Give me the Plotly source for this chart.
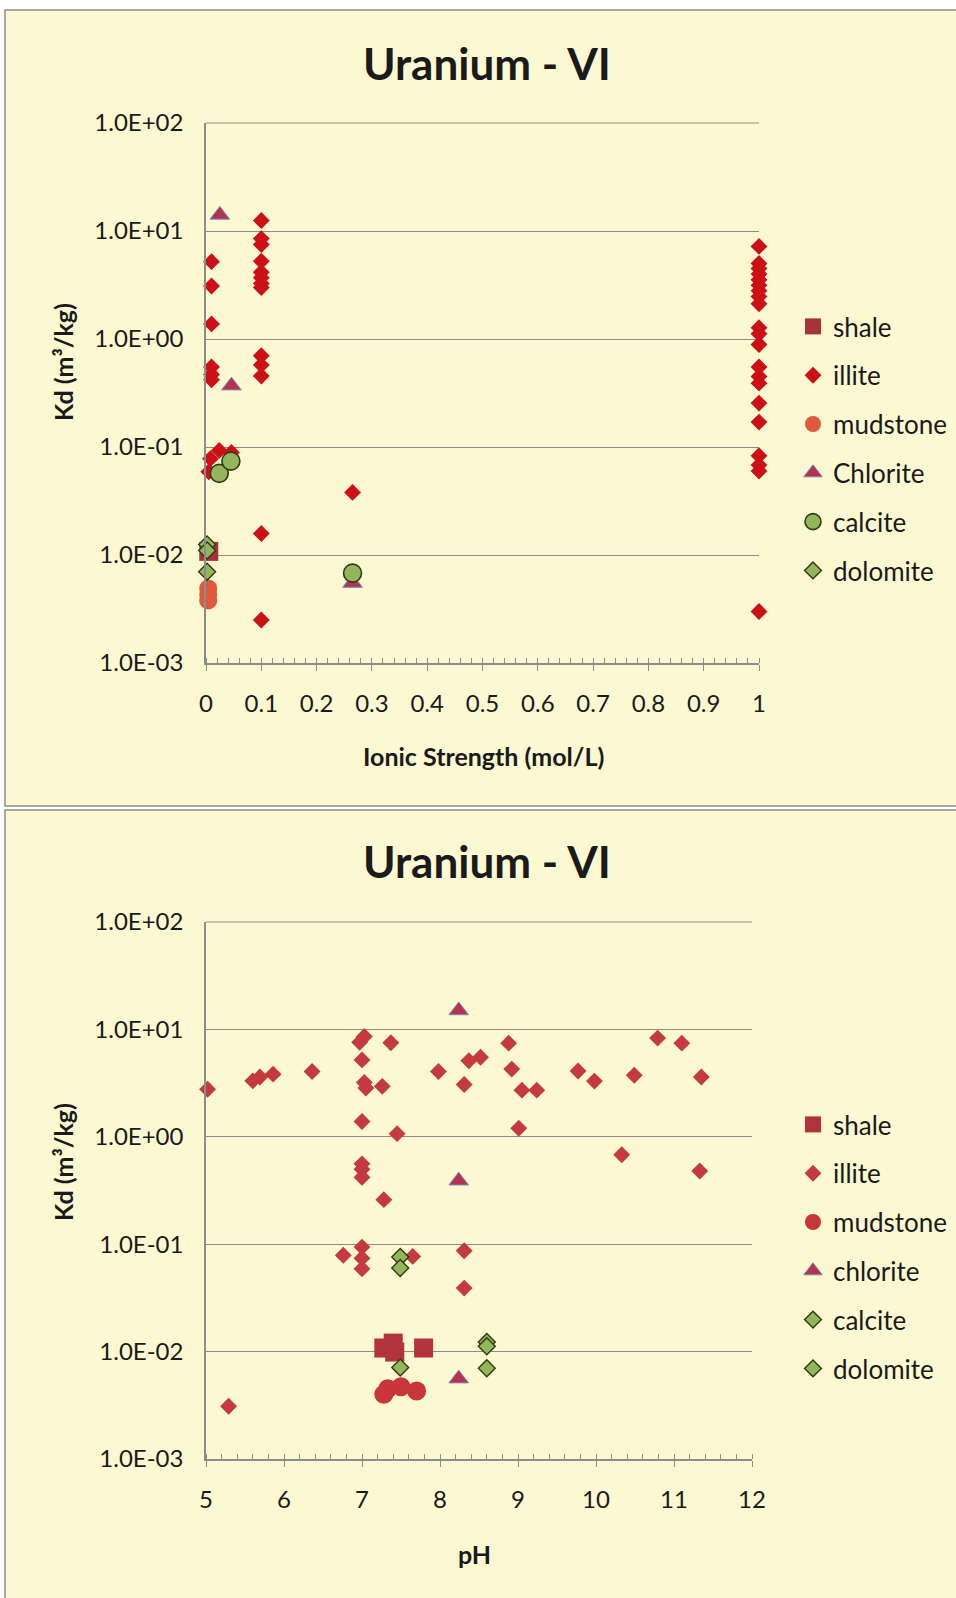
import plotly.graph_objects as go

# ---------------- data: Kd vs ionic strength ----------------
is_shale_x = [0.005]
is_shale_y = [0.0108]

is_illite_x = [0.01, 0.01, 0.01, 0.01, 0.01, 0.01,
               0.024, 0.008, 0.005, 0.046,
               0.1, 0.1, 0.1, 0.1, 0.1, 0.1, 0.1, 0.1, 0.1, 0.1, 0.1, 0.1, 0.1,
               0.265,
               1, 1, 1, 1, 1, 1, 1, 1, 1, 1, 1, 1, 1, 1, 1, 1, 1, 1, 1, 1, 1]
is_illite_y = [5.2, 3.1, 1.38, 0.55, 0.47, 0.42,
               0.093, 0.078, 0.059, 0.089,
               12.5, 8.5, 7.5, 5.25, 4.15, 3.7, 3.27, 3.0, 0.70, 0.575, 0.455, 0.0158, 0.0025,
               0.038,
               7.2, 5.0, 4.5, 4.0, 3.54, 3.15, 2.8, 2.48, 2.12, 1.27, 1.12, 0.89,
               0.55, 0.45, 0.39, 0.255, 0.17, 0.083, 0.068, 0.060, 0.0030]

is_mudstone_x = [0.004, 0.004, 0.004]
is_mudstone_y = [0.0049, 0.0043, 0.0038]

is_chlorite_x = [0.025, 0.046, 0.265]
is_chlorite_y = [14.1, 0.37, 0.0055]

is_calcite_x = [0.024, 0.045, 0.265]
is_calcite_y = [0.057, 0.074, 0.0068]

is_dolomite_x = [0.002, 0.002, 0.002]
is_dolomite_y = [0.0125, 0.011, 0.0070]

# ---------------- data: Kd vs pH ----------------
ph_shale_x = [7.28, 7.40, 7.42, 7.79]
ph_shale_y = [0.0108, 0.012, 0.0099, 0.0108]

ph_illite_x = [5.02, 5.29, 5.60, 5.69, 5.86, 6.36,
               7.03, 6.97, 7.0, 7.03, 7.05, 7.0, 7.0, 7.0, 7.0, 7.28, 7.37, 7.26, 7.45,
               6.76, 7.0, 7.0, 7.0, 7.65,
               7.98, 8.31, 8.37, 8.52, 8.31, 8.31, 8.88, 8.92, 9.05, 9.24, 9.01,
               9.77, 9.98, 10.49, 10.79, 11.10, 11.35, 10.33, 11.33]
ph_illite_y = [2.77, 0.0031, 3.32, 3.6, 3.83, 4.05,
               8.6, 7.6, 5.2, 3.2, 2.84, 1.39, 0.56, 0.50, 0.42, 0.26, 7.5, 2.95, 1.07,
               0.079, 0.094, 0.074, 0.059, 0.077,
               4.05, 3.07, 5.1, 5.5, 0.087, 0.039, 7.45, 4.27, 2.72, 2.72, 1.2,
               4.1, 3.3, 3.74, 8.3, 7.45, 3.6, 0.68, 0.48]

ph_mudstone_x = [7.28, 7.33, 7.50, 7.70]
ph_mudstone_y = [0.0040, 0.0045, 0.0047, 0.0043]

ph_chlorite_x = [8.24, 8.24, 8.24]
ph_chlorite_y = [15.0, 0.39, 0.0056]

ph_calcite_x = [7.49, 7.49, 8.60]
ph_calcite_y = [0.076, 0.060, 0.0070]

ph_dolomite_x = [7.49, 8.60, 8.60]
ph_dolomite_y = [0.0071, 0.0123, 0.0112]

# ---------------- tick labels ----------------
kd_tickvals = [1e-3, 1e-2, 1e-1, 1e0, 1e1, 1e2]
kd_ticktext = ["1.0E-03", "1.0E-02", "1.0E-01", "1.0E+00", "1.0E+01", "1.0E+02"]
is_tickvals = [0, 0.1, 0.2, 0.3, 0.4, 0.5, 0.6, 0.7, 0.8, 0.9, 1]
is_ticktext = ["0", "0.1", "0.2", "0.3", "0.4", "0.5", "0.6", "0.7", "0.8", "0.9", "1"]
ph_tickvals = [5, 6, 7, 8, 9, 10, 11, 12]

W, H = 956, 1598
FONT = "Lato"
PANEL = "#FBF8D2"
GRID = "#8C8C8C"
TXT = "#1A1A1A"

GREEN = "#93B65A"
GREEN_EDGE = "#2E3A12"


def px_x(p):
    return p / W


def px_y(p):
    return 1 - p / H


fig = go.Figure()


def add_series(x, y, name, xa, ya, leg, grp, symbol, size, color, edge=None, ew=0):
    fig.add_trace(go.Scatter(
        x=x, y=y, mode="markers", name=name,
        xaxis=xa, yaxis=ya, legend=leg, legendgroup=grp,
        cliponaxis=False,
        marker=dict(symbol=symbol, size=size, color=color,
                    line=dict(color=edge if edge else color, width=ew)),
    ))


# top chart
add_series(is_shale_x, is_shale_y, "shale", "x", "y", "legend", "a1", "square", 19, "#A8323C")
add_series(is_illite_x, is_illite_y, "illite", "x", "y", "legend", "a2", "diamond", 13, "#CC1016")
add_series(is_mudstone_x, is_mudstone_y, "mudstone", "x", "y", "legend", "a3", "circle", 18, "#DE5A3C")
add_series(is_chlorite_x, is_chlorite_y, "Chlorite", "x", "y", "legend", "a4", "triangle-up", 17,
           "#B23452", "#8585B0", 1)
add_series(is_calcite_x, is_calcite_y, "calcite", "x", "y", "legend", "a5", "circle", 18,
           GREEN, GREEN_EDGE, 1.6)
add_series(is_dolomite_x, is_dolomite_y, "dolomite", "x", "y", "legend", "a6", "diamond", 13,
           GREEN, GREEN_EDGE, 1.4)

# bottom chart
add_series(ph_shale_x, ph_shale_y, "shale", "x2", "y2", "legend2", "b1", "square", 19, "#B3333C")
add_series(ph_illite_x, ph_illite_y, "illite", "x2", "y2", "legend2", "b2", "diamond", 13, "#C53A3C")
add_series(ph_mudstone_x, ph_mudstone_y, "mudstone", "x2", "y2", "legend2", "b3", "circle", 19, "#C8363A")
add_series(ph_chlorite_x, ph_chlorite_y, "chlorite", "x2", "y2", "legend2", "b4", "triangle-up", 17,
           "#B23452", "#8585B0", 1)
add_series(ph_calcite_x, ph_calcite_y, "calcite", "x2", "y2", "legend2", "b5", "diamond", 13,
           GREEN, GREEN_EDGE, 1.4)
add_series(ph_dolomite_x, ph_dolomite_y, "dolomite", "x2", "y2", "legend2", "b6", "diamond", 13,
           GREEN, GREEN_EDGE, 1.4)

tickfont = dict(family=FONT, size=24, color=TXT)

yaxis_common = dict(
    type="log", range=[-3, 2],
    tickvals=kd_tickvals, ticktext=kd_ticktext,
    showgrid=True, gridcolor=GRID, gridwidth=1,
    showline=True, linecolor=GRID, linewidth=1.5,
    ticks="", ticklabelstandoff=16,
    tickfont=tickfont, zeroline=False, automargin=False,
)

xaxis_common = dict(
    showgrid=False, zeroline=False, automargin=False,
    showline=True, linecolor=GRID, linewidth=1.5,
    ticks="outside", ticklen=6, tickcolor=GRID, tickwidth=1.2,
    ticklabelstandoff=12, tickfont=tickfont,
)

legend_common = dict(
    xanchor="left", yanchor="top", bgcolor="rgba(0,0,0,0)",
    font=dict(family=FONT, size=26, color=TXT),
    tracegroupgap=12, itemclick=False,
)

fig.update_layout(
    width=W, height=H,
    margin=dict(l=0, r=0, t=0, b=0, pad=0, autoexpand=False),
    paper_bgcolor="white",
    plot_bgcolor="white",
    font=dict(family=FONT, color=TXT),
    xaxis=dict(domain=[px_x(206), px_x(759)], anchor="y", range=[0, 1],
               tickvals=is_tickvals, ticktext=is_ticktext,
               minor=dict(dtick=0.02, ticks="inside", ticklen=5, tickcolor=GRID, tickwidth=1),
               **xaxis_common),
    yaxis=dict(domain=[px_y(663), px_y(123)], anchor="x", **yaxis_common),
    xaxis2=dict(domain=[px_x(206), px_x(752)], anchor="y2", range=[5, 12],
                tickvals=ph_tickvals,
                minor=dict(dtick=0.2, ticks="inside", ticklen=5, tickcolor=GRID, tickwidth=1),
                **xaxis_common),
    yaxis2=dict(domain=[px_y(1459), px_y(922)], anchor="x2", **yaxis_common),
    legend=dict(x=px_x(793), y=px_y(303), **legend_common),
    legend2=dict(x=px_x(793), y=px_y(1101), **legend_common),
    showlegend=True,
)

# chart panels
fig.add_shape(type="rect", xref="paper", yref="paper",
              x0=px_x(5), x1=px_x(962), y0=px_y(806), y1=px_y(10),
              fillcolor=PANEL, line=dict(color="#8A8A8A", width=1.5), layer="below")
fig.add_shape(type="rect", xref="paper", yref="paper",
              x0=px_x(5), x1=px_x(962), y0=px_y(1604), y1=px_y(810),
              fillcolor=PANEL, line=dict(color="#8A8A8A", width=1.5), layer="below")

# top border line of each plot area (the 1.0E+02 gridline)
for xr, yr in (("x domain", "y domain"), ("x2 domain", "y2 domain")):
    fig.add_shape(type="line", xref=xr, yref=yr, x0=0, x1=1, y0=1, y1=1,
                  line=dict(color=GRID, width=1.2))


# titles and axis titles
def note(text, x, y, size, bold=True, angle=0):
    fig.add_annotation(
        text=f"<b>{text}</b>" if bold else text,
        xref="paper", yref="paper", x=px_x(x), y=px_y(y),
        xanchor="center", yanchor="middle", showarrow=False, textangle=angle,
        font=dict(family=FONT, size=size, color=TXT),
    )


note("Uranium - VI", 487, 63, 44)
note("Uranium - VI", 487, 861, 44)
note("Kd (m³/kg)", 63, 362, 25, angle=-90)
note("Kd (m³/kg)", 63, 1162, 25, angle=-90)
note("Ionic Strength (mol/L)", 483, 756, 25)
note("pH", 474, 1554, 25)

fig.write_html("out.html")
